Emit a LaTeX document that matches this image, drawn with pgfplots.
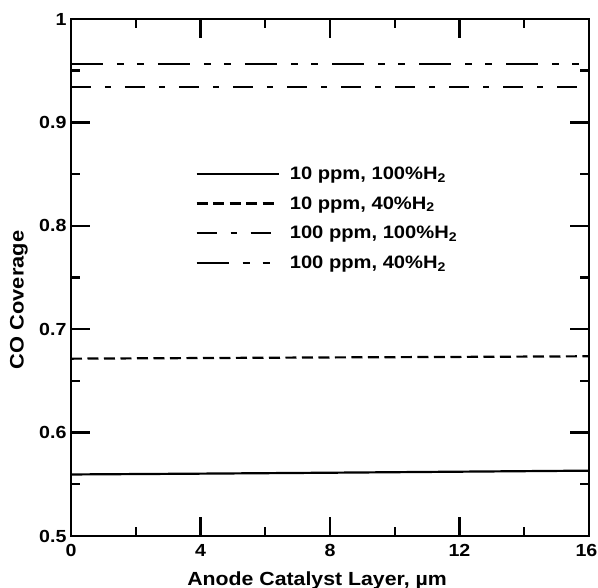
\documentclass[border=0pt]{standalone}
\usepackage{fontspec}
\setmainfont[FakeStretch=1.12]{Liberation Sans}
\usepackage{pgfplots}
\pgfplotsset{compat=1.18}

\begin{document}
\begin{tikzpicture}
\useasboundingbox (-71pt,-52pt) rectangle (527pt,536pt);
\begin{axis}[
  scale only axis,
  width=518pt, height=517pt,
  xmin=0, xmax=16, ymin=0.5, ymax=1,
  xtick={0,4,8,12,16}, minor xtick={2,6,10,14},
  xticklabels={0,4,8,12,16\kern5pt},
  ytick={0.5,0.6,0.7,0.8,0.9,1},
  yticklabels={0.5,0.6,0.7,0.8,0.9,1},
  minor ytick={0.55,0.65,0.75,0.85,0.95},
  tick align=inside,
  major tick length=19pt, minor tick length=9pt,
  every tick/.style={black, line width=2.4pt},
  axis line style={line width=2.6pt},
  font=\bfseries\fontsize{17.5}{20}\selectfont,
  /pgf/number format/assume math mode=true,
  xticklabel style={yshift=-5pt},
  yticklabel style={xshift=-1pt},
  xlabel={Anode Catalyst Layer, µm},
  ylabel={CO Coverage},
  xlabel style={at={(axis description cs:0.475,-0.0948)}, anchor=base,
    font=\bfseries\fontsize{19}{22}\selectfont},
  ylabel style={at={(axis description cs:-0.1004,0.4565)}, anchor=center,
    font=\bfseries\fontsize{19.5}{22}\selectfont},
  legend style={draw=none, fill=none, at={(axis cs:3.75,0.861)}, anchor=north west,
    row sep=11.5pt, font=\bfseries\fontsize{18}{21}\selectfont,
    /tikz/every odd column/.append style={column sep=8pt}},
  legend cell align=left,
  legend image code/.code={\draw[#1] (0pt,0pt) -- (82pt,0pt);},
]
% 10 ppm CO, 100% H2
\addplot[black, line width=2.2pt] coordinates {(0,0.5595) (4,0.5603) (8,0.5612) (12,0.5622) (16,0.5632)};
\addlegendentry{10 ppm, 100\%H\textsubscript{2}}
% 10 ppm CO, 40% H2
\addplot[black, line width=2.2pt, dash pattern=on 11pt off 5.5pt] coordinates {(0,0.6715) (4,0.6721) (8,0.6727) (12,0.6732) (16,0.6738)};
\addlegendentry{10 ppm, 40\%H\textsubscript{2}}
% 100 ppm CO, 100% H2
\addplot[black, line width=2.2pt, dash pattern=on 20pt off 14pt on 6pt off 14pt] coordinates {(0,0.9345) (8,0.9345) (16,0.9345)};
\addlegendentry{100 ppm, 100\%H\textsubscript{2}}
% 100 ppm CO, 40% H2
\addplot[black, line width=2.2pt, dash pattern=on 32pt off 14pt on 7pt off 13pt on 7pt off 14pt] coordinates {(0,0.9565) (8,0.9565) (16,0.9565)};
\addlegendentry{100 ppm, 40\%H\textsubscript{2}}
\end{axis}
\end{tikzpicture}
\end{document}
